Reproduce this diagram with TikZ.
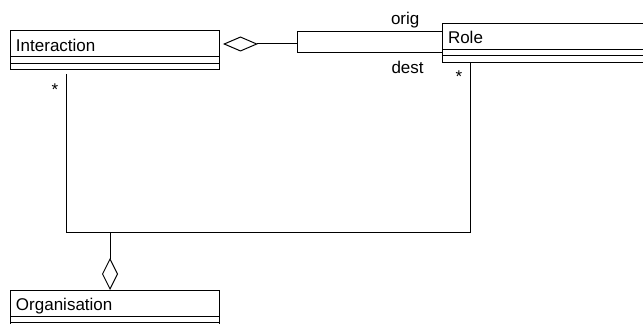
\documentclass[tikz,border=0pt]{standalone}
\usepackage{fontspec}
\setmainfont{Liberation Sans}
\usetikzlibrary{positioning,arrows.meta}

\tikzset{every picture/.style={line width=0.75pt}}
\tikzset{
	every node/.style={font=\fontsize{12.75pt}{15pt}\selectfont},
	classname/.style={draw, rectangle, anchor=north west, outer sep=0pt, inner xsep=4.5pt, inner ysep=0pt, text width=#1, minimum height=19.5pt, text height=11.25pt, text depth=0pt, align=left},
	compartment/.style={draw, rectangle, outer sep=0pt, inner sep=0pt, minimum width=#1, minimum height=4.875pt},
	rolelabel/.style={inner sep=0pt, anchor=base west},
	mult/.style={inner sep=0pt, anchor=base}
}

\begin{document}
\begin{tikzpicture}[x=0.75pt,y=0.75pt,yscale=-1,xscale=1]
	\useasboundingbox (0,0) rectangle (643,324);
	\clip (0,0) rectangle (643,324);

	%Class: Interaction
	\node[classname=148.125pt] (interaction) at (10,31) {Interaction};
	\node[compartment=157.125pt, below=0pt of interaction] (interaction attr) {};
	\node[compartment=157.125pt, below=0pt of interaction attr] (interaction ops) {};

	%Class: Role
	\node[classname=156pt] (role) at (442,23.5) {Role};
	\node[compartment=165pt, below=0pt of role] (role attr) {};
	\node[compartment=165pt, below=0pt of role attr] (role ops) {};

	%Class: Organisation
	\node[classname=148.125pt] (organisation) at (10,290) {Organisation};
	\node[compartment=157.125pt, below=0pt of organisation] (organisation attr) {};
	\node[compartment=157.125pt, below=0pt of organisation attr] (organisation ops) {};

	%Aggregation: Interaction -- Role (orig, dest)
	\coordinate (fork) at (297,44);
	\draw[{Diamond[open,length=26.25pt,width=11.25pt]}-, shorten <=2.6pt] (interaction.east) -- (fork);
	\draw (fork) |- ([yshift=-3.9pt]role.west);
	\draw (fork) |- (role attr.west);

	% Text Node
	\node[rolelabel] (orig) at (390.5,24.3) {orig};
	% Text Node
	\node[rolelabel] (dest) at (391,74) {dest};

	%Association: Interaction -- Role
	\coordinate (link) at (110,232.3);
	\draw[shorten <=3pt] ([xshift=42.5pt]interaction ops.south west) |- (link) -| ([xshift=21.5pt]role ops.south west);

	% Text Node
	\node[mult] (interaction mult) at (55,95.4) {*};
	% Text Node
	\node[mult] (role mult) at (459,82.4) {*};

	%Aggregation: Organisation
	\draw[{Diamond[open,length=24pt,width=12pt]}-] (organisation.north -| link) -- (link);

\end{tikzpicture}
\end{document}
